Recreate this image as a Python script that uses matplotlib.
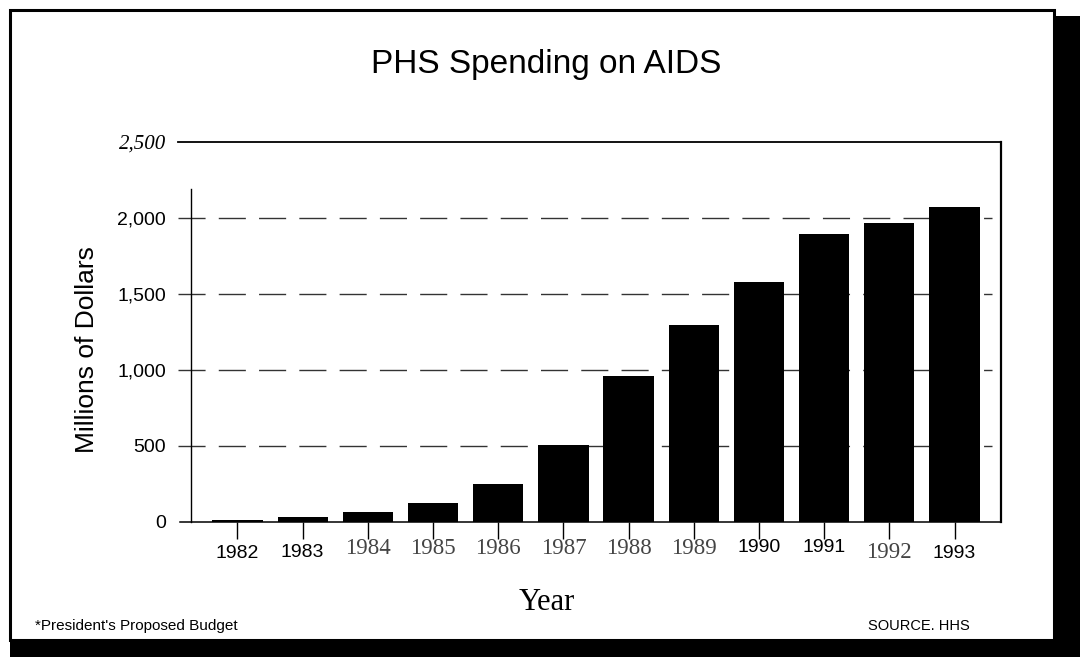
import matplotlib
matplotlib.use('Agg')
import matplotlib.pyplot as plt
from matplotlib.patches import Rectangle

# values (millions of dollars)
years = ['1982', '1983', '1984', '1985', '1986', '1987',
         '1988', '1989', '1990', '1991', '1992', '1993']
spending = [8, 32, 66, 122, 245, 505, 960, 1295, 1580, 1890, 1968, 2070]

y_ticks = [0, 500, 1000, 1500, 2000, 2500]
y_tick_labels = ['0', '500', '1,000', '1,500', '2,000', '2,500']

# the scanned original mixes typefaces on the year labels
serif_year = [False, False, True, True, True, True, True, True, False, False, True, False]
year_drop = [32, 31, 27, 27, 27, 27, 27, 27, 26, 26, 31, 32]   # px below axis

SANS = 'Liberation Sans'
SERIF = 'Liberation Serif'
plt.rcParams['lines.scale_dashes'] = False

W, H = 1080, 657
fig = plt.figure(figsize=(W / 100, H / 100), dpi=100)
ax = fig.add_axes([191 / W, 1 - 521.7 / H, 810 / W, 380 / H])

x = list(range(len(years)))
ax.bar(x, spending, width=0.77, color='black', zorder=3)
ax.set_xlim(-0.713, 11.713)
ax.set_ylim(0, 2500)

# frame lines of the plot
ax.spines['top'].set_visible(False)
ax.spines['bottom'].set_visible(False)
ax.spines['left'].set_bounds(0, 2190)
ax.spines['left'].set_linewidth(1.0)
ax.spines['right'].set_linewidth(1.6)
ax.axhline(2500, xmin=-0.016, xmax=1.0, color='black', lw=1.3, clip_on=False, zorder=4)
ax.axhline(0, xmin=-0.014, xmax=1.0, color='black', lw=1.1, clip_on=False, zorder=4)

for v in y_ticks[1:-1]:
    ax.axhline(v, xmin=-0.016, xmax=0.989, color='#333333', lw=1.0,
               ls=(0, (19.5, 9.5)), clip_on=False, zorder=1)

ax.set_yticks(y_ticks, y_tick_labels)
ax.tick_params(axis='y', length=0, pad=18, labelsize=14)
for lab in ax.get_yticklabels():
    lab.set_fontfamily(SANS)
top_lab = ax.get_yticklabels()[-1]
top_lab.set_fontfamily(SERIF)
top_lab.set_fontstyle('italic')
top_lab.set_fontsize(15)

ax.set_xticks(x, [''] * len(x))
ax.tick_params(axis='x', length=12, width=1.0, direction='out')

for i, yr in enumerate(years):
    if serif_year[i]:
        fam, size, col = SERIF, 16.5, '#444444'
    else:
        fam, size, col = SANS, 14, 'black'
    ax.annotate(yr, xy=(i, 0), xycoords=('data', 'axes fraction'),
                xytext=(0, -year_drop[i] * 0.72), textcoords='offset points',
                ha='center', va='center', family=fam, fontsize=size, color=col)

fig.text(546 / W, 1 - 65 / H, 'PHS Spending on AIDS', family=SANS, fontsize=24,
         ha='center', va='center')
fig.text(87 / W, 1 - 350 / H, 'Millions of Dollars', family=SANS, fontsize=19,
         rotation=90, ha='center', va='center')
fig.text(547 / W, 1 - 602 / H, 'Year', family=SERIF, fontsize=22,
         ha='center', va='center')
fig.text(35 / W, 1 - 626 / H, "*President's Proposed Budget", family=SANS,
         fontsize=11, ha='left', va='center')
fig.text(970 / W, 1 - 626 / H, 'SOURCE. HHS', family=SANS, fontsize=10.5,
         ha='right', va='center')

# page border with drop shadow
fig.patches.append(Rectangle((10 / W, 17 / H), 1044 / W, 630 / H, transform=fig.transFigure,
                             fill=False, lw=2.2, ec='black'))
fig.patches.append(Rectangle((1054 / W, 0), 26 / W, (H - 16) / H, transform=fig.transFigure,
                             fc='black', ec='none'))
fig.patches.append(Rectangle((10 / W, 0), (W - 10) / W, 17 / H, transform=fig.transFigure,
                             fc='black', ec='none'))

fig.savefig('out.png', dpi=100)
